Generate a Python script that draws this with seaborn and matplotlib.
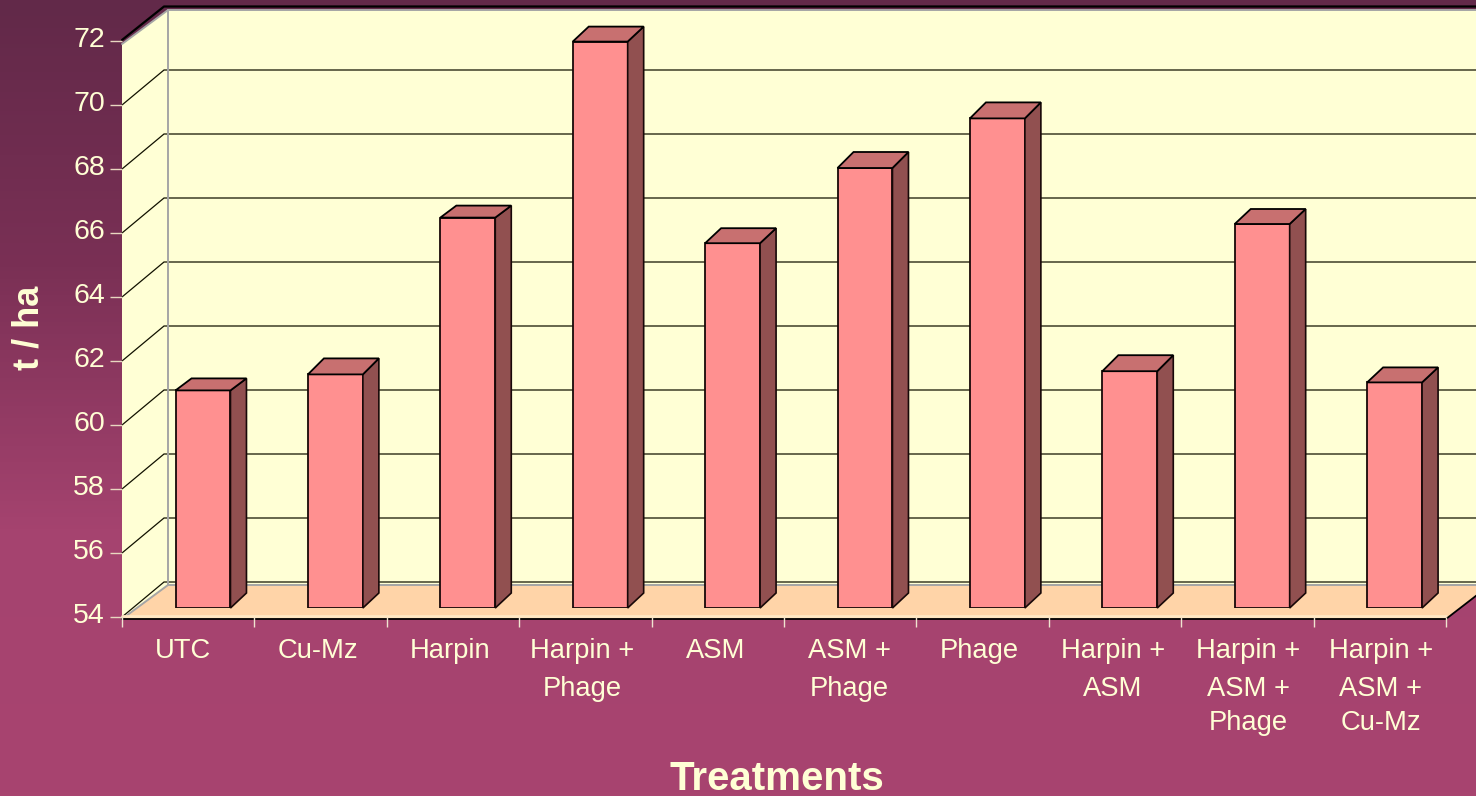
import numpy as np
import pandas as pd
import seaborn as sns
import matplotlib
matplotlib.use('Agg')
import matplotlib.pyplot as plt
from matplotlib.colors import LinearSegmentedColormap
from matplotlib.patches import Polygon
from matplotlib.transforms import IdentityTransform, ScaledTranslation

#treatments and yields
treatments = ['UTC', 'Cu-Mz', 'Harpin', 'Harpin +\nPhage', 'ASM', 'ASM +\nPhage', 'Phage',
              'Harpin +\nASM', 'Harpin +\nASM +\nPhage', 'Harpin +\nASM +\nCu-Mz']
yields = [60.8, 61.3, 66.2, 71.7, 65.4, 67.75, 69.3, 61.4, 66.0, 61.05]
y_ticks = [54, 56, 58, 60, 62, 64, 66, 68, 70, 72]

W, H = 1476, 796
cream = '#FFFFD5'
px = 72 / 100  #points per image pixel at this dpi
df = pd.DataFrame({'treatment': treatments, 'yield': yields})

sns.set_theme(style='white')
plt.rcParams['font.family'] = ['Liberation Sans', 'DejaVu Sans']

fig = plt.figure(figsize=(W / 100, H / 100), dpi=100)

def box(left, top, right, bottom):
    return [left / W, 1 - bottom / H, (right - left) / W, (bottom - top) / H]

#backdrop axes in image pixels: gradient, walls, floor
bg = fig.add_axes([0, 0, 1, 1], zorder=0)
bg.set_xlim(0, W)
bg.set_ylim(H, 0)
bg.axis('off')
cmap = LinearSegmentedColormap.from_list('plum', ['#622949', '#7A3055', '#A5436F', '#A8446F'])
bg.imshow(np.linspace(0, 1, 200).reshape(-1, 1), cmap=cmap, aspect='auto', extent=[0, W, H, 0], zorder=0)

bg.add_patch(Polygon([(122, 44), (168, 10), (W + 5, 10), (W + 5, 585), (168, 585), (122, 619)],
                     facecolor=cream, edgecolor='none', zorder=1))
bg.add_patch(Polygon([(122, 619), (168, 585), (1490, 585), (1446, 619)],
                     facecolor='#FFD4A8', edgecolor='none', zorder=2))

#front plane carries the ticks
front = fig.add_axes(box(122, 41, 1446, 617), zorder=1)
front.patch.set_visible(False)
front.set_xlim(-0.5, 9.5)
front.set_ylim(54, 72)
sns.despine(ax=front, left=True, bottom=True, top=True, right=True)
front.set_xticks(np.arange(-0.5, 10, 1))
front.set_xticklabels([])
front.set_yticks(y_ticks)
front.tick_params(axis='y', left=True, length=12 * px, width=1, color='#E8D8C0', labelcolor=cream,
                  labelsize=20.5, pad=5 * px)
front.tick_params(axis='x', bottom=True, length=10 * px, width=1, color='#F0E4D0')
for lab in front.get_yticklabels():
    lab.set_transform(lab.get_transform() + ScaledTranslation(0, 4 / 100, fig.dpi_scale_trans))

#grid: slanted on the side wall, flat on the back wall
for v in y_ticks[:-1]:
    _, yp = front.transData.transform((0, v))
    yp = H - yp
    bg.plot([122, 164, W + 5], [yp, yp - 35, yp - 35], color='#111100', lw=0.9, zorder=3,
            solid_joinstyle='miter')
bg.plot([122, 164, W + 5], [40, 6.5, 6.5], color='black', lw=1.6, zorder=3)
bg.plot([122, 168, W + 5], [44, 10, 10], color='#A5A5A5', lw=1.4, zorder=3)
bg.plot([168, 168], [10, 585], color='#A5A5A5', lw=1.4, zorder=3)
bg.plot([122, 168, W + 5], [619, 585, 585], color='#A5A5A5', lw=1.4, zorder=3)
bg.plot([122, 1446], [616, 616], color='#FFE8C4', lw=2, zorder=4)
bg.plot([122, 1446, 1490], [619, 619, 585], color='black', lw=1.3, zorder=4)

#bars on their own plane, set back from the front plane
ax = fig.add_axes(box(136.8, 32, 1460.8, 608), zorder=2)
ax.patch.set_visible(False)
sns.barplot(data=df, x='treatment', y='yield', color='#FF9090', saturation=1, width=0.415,
            edgecolor='#180808', linewidth=1.3, ax=ax)
ax.set_xlim(-0.5, 9.5)
ax.set_ylim(54, 72)
ax.axis('off')
depth_x = 16
#the source drew the top of the 1st and 3rd bars a little shallower
top_depths = [12, 16, 12, 15, 15, 16, 16, 16, 15, 15]
for bar, val, depth_top in zip(ax.patches, yields, top_depths):
    bar.set_y(54)
    bar.set_height(val - 54)
    x0, x1 = bar.get_x(), bar.get_x() + bar.get_width()
    (dx0, dy0), (dx1, dy1) = ax.transData.transform([(x0, 54), (x1, val)])
    side = [(dx1, dy0), (dx1, dy1), (dx1 + depth_x, dy1 + depth_top), (dx1 + depth_x, dy0 + 15)]
    top = [(dx0, dy1), (dx1, dy1), (dx1 + depth_x, dy1 + depth_top), (dx0 + depth_x, dy1 + depth_top)]
    ax.add_patch(Polygon(side, transform=IdentityTransform(), facecolor='#915050', edgecolor='#180808',
                         lw=1.2, clip_on=False, zorder=1))
    ax.add_patch(Polygon(top, transform=IdentityTransform(), facecolor='#C87070', edgecolor='black',
                         lw=1.3, clip_on=False, zorder=1))

#category labels, one row per line
rows = [651, 689, 723]
nudge = [-5, -3, -3, -3, -2, -1, -3, -2, 1, 1]
for i, name in enumerate(treatments):
    xp = 122 + 132.4 * (i + 0.5) + nudge[i]
    for row, part in zip(rows, name.split('\n')):
        bg.text(xp, row, part, color=cream, fontsize=19.7, ha='center', va='center', zorder=5)

bg.text(777, 779, 'Treatments', color=cream, fontsize=29, fontweight='bold', ha='center', va='center', zorder=5)
bg.text(29, 328, 't / ha', color=cream, fontsize=26, fontweight='bold', rotation=90, ha='center', va='center', zorder=5)

fig.savefig('out.png', dpi=100)
